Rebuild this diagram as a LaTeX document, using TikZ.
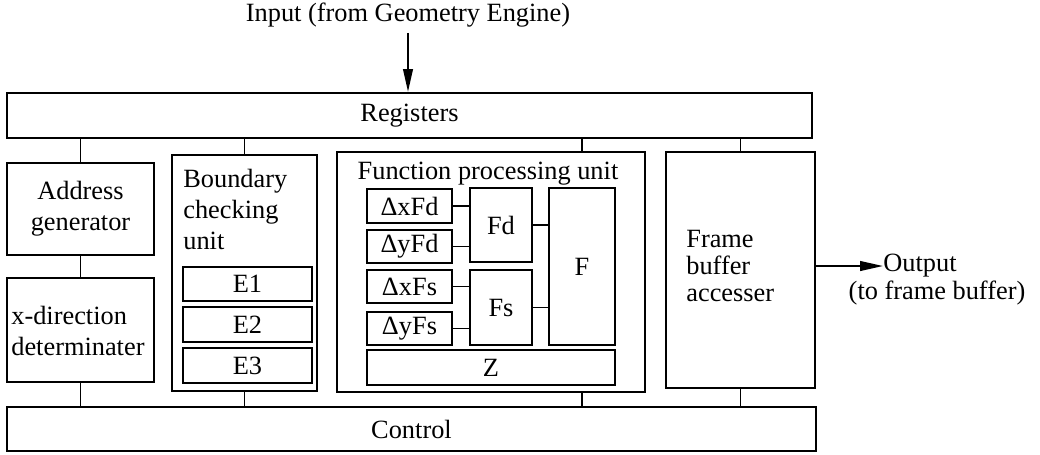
\documentclass[tikz,border=0pt]{standalone}
\usepackage{fontspec}
\setmainfont{Liberation Serif}
\usetikzlibrary{positioning, arrows.meta, fit}

\tikzset{
  box/.style={draw, line width=1.3pt, inner sep=0pt},
  lbl/.style={inner sep=0pt, align=left},
  wire/.style={line width=1.1pt},
  flow/.style={line width=1.1pt, -{Triangle[length=13pt, width=5.5pt]}}
}

\begin{document}
\begin{tikzpicture}[x=0.02cm, y=-0.02cm, font=\fontsize{15}{17.6}\selectfont]
  \useasboundingbox (0,0) rectangle (1040,454);
  \node[box, fit={(7,93) (812,138)}, label={[lbl]center:Registers}] (regs) {};
  \node[box, fit={(7,407) (816,451)}, label={[lbl]center:Control}] (ctrl) {};
  \node[box, fit={(7,163) (154,255)},
    label={[lbl, align=center]center:Address\\generator}] (addr) {};
  \node[box, fit={(7,278) (154,382)}] (xdir) {};
  \node[lbl, anchor=west] (xdirtxt) at (11,331) {x-direction\\determinater};
  % boundary checking unit
  \node[box, fit={(172,155) (317,391)}] (bcu) {};
  \node[lbl, anchor=north west] (bcutitle) at (183,169) {Boundary\\checking\\unit};
  \foreach \nm/\lb/\ya/\yb in {e1/E1/267/301, e2/E2/307/342, e3/E3/348/383}
    \node[box, fit={(183,\ya) (312,\yb)}, label={[lbl]center:\lb}] (\nm) {};
  % function processing unit
  \node[box, fit={(337,152) (645,392)}] (fpu) {};
  \node[lbl, anchor=north] (fputitle) at (488,162) {Function processing unit};
  \foreach \nm/\lb/\ya/\yb in {dxfd/ΔxFd/189/223, dyfd/ΔyFd/230/263,
      dxfs/ΔxFs/270/303, dyfs/ΔyFs/312/345}
    \node[box, fit={(367,\ya) (452,\yb)}, label={[lbl]center:\lb}] (\nm) {};
  \node[box, fit={(470,188) (532,262)}, label={[lbl]center:Fd}] (fd) {};
  \node[box, fit={(470,270) (532,345)}, label={[lbl]center:Fs}] (fs) {};
  \node[box, fit={(549,188) (615,345)}, label={[lbl]center:F}] (f) {};
  \node[box, fit={(367,350) (615,385)}, label={[lbl]center:Z}] (z) {};
  \foreach \nm in {dxfd, dyfd}
    \draw[wire] (\nm.east) -- (\nm.east -| fd.west);
  \foreach \nm in {dxfs, dyfs}
    \draw[wire] (\nm.east) -- (\nm.east -| fs.west);
  \foreach \nm in {fd, fs}
    \draw[wire] (\nm.east) -- (\nm.east -| f.west);
  % frame buffer accesser
  \node[box, fit={(666,152) (815,388)}] (fba) {};
  \node[lbl, anchor=west, font=\fontsize{15}{15.5}\selectfont] (fbatxt) at (686,266)
    {Frame\\buffer\\accesser};
  % bus connections
  \draw[wire] (addr.south) -- (xdir.north);
  \foreach \nm/\bx in {addr/addr, bcu/bcu, f/fpu, fba/fba}
    \draw[wire] (\nm.north |- \bx.north) -- (\nm.north |- regs.south);
  \foreach \nm/\bx in {xdir/xdir, bcu/bcu, f/fpu, fba/fba}
    \draw[wire] (\nm.south |- \bx.south) -- (\nm.south |- ctrl.north);
  % input and output
  \node[lbl] (inp) at (408,15) {Input (from Geometry Engine)};
  \draw[flow] ([yshift=-3pt]inp.south) -- (inp.south |- regs.north);
  \node[lbl, anchor=west] (outp) at (883,266) {Output};
  \node[lbl] (outsub) at (937,293) {(to frame buffer)};
  \draw[flow] (fba.east |- outp.west) -- (outp.west);
\end{tikzpicture}
\end{document}
